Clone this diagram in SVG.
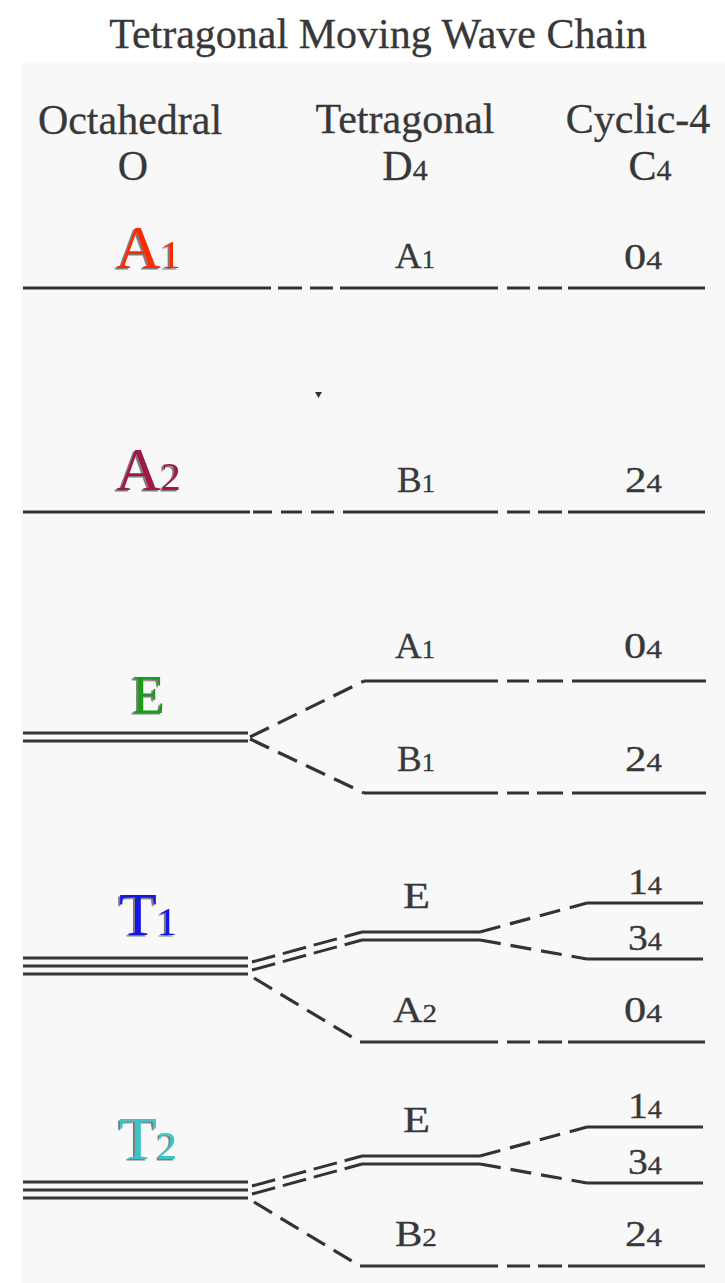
<svg xmlns="http://www.w3.org/2000/svg" width="725" height="1283" viewBox="0 0 725 1283">
<defs>
<style>
.t{font-family:"Liberation Serif","Times New Roman",serif;fill:#383838}
.g{stroke:#383838;stroke-width:0.3}
.h{font-size:42px}
.m{font-size:35px}
.s{font-size:25px}
.hs{font-size:30px}
.c{font-size:62px}
.cs{font-size:40px}
.lv{stroke:#333;stroke-width:3.2;fill:none}
.dl{stroke:#333;stroke-width:3;fill:none}
.da{stroke-dasharray:21 10}
.da2{stroke-dasharray:24 8}
</style>
<filter id="sh" x="-20%" y="-20%" width="140%" height="140%">
<feDropShadow dx="-2" dy="1.5" stdDeviation="0.6" flood-color="#444" flood-opacity="0.7"/>
</filter>
</defs>
<rect width="725" height="1283" fill="#ffffff"/>
<rect x="22" y="62" width="703" height="1221" fill="#f8f8f8"/>

<g id="title">
<text class="t g h" x="378" y="48" text-anchor="middle">Tetragonal Moving Wave Chain</text>
</g>
<g id="col-octahedral">
<text class="t g h" x="130" y="134" text-anchor="middle">Octahedral</text>
<text class="t g h" x="133" y="180" text-anchor="middle">O</text>
</g>
<g id="col-tetragonal">
<text class="t g h" x="405" y="133" text-anchor="middle">Tetragonal</text>
<text class="t g h" x="405" y="180" text-anchor="middle">D<tspan class="hs">4</tspan></text>
</g>
<g id="col-cyclic">
<text class="t g h" x="638" y="133" text-anchor="middle">Cyclic-4</text>
<text class="t g h" x="650" y="180" text-anchor="middle">C<tspan class="hs">4</tspan></text>
</g>

<g id="connectors">
<path class="lv" d="M23 288H271M278 288H302M310 288H333M340 288H498M507 288H530M538 288H562M568 288H705"/>
<path class="lv" d="M23 512H250M253 512H272M281 512H302M311 512H334M343 512H498M507 512H530M538 512H562M568 512H705"/>
<path class="dl" d="M23 733H248M23 741H248"/>
<path class="lv da" d="M250 737L364 681"/>
<path class="lv da" d="M250 739L364 793"/>
<path class="lv" d="M364 681H498M507 681H529M537 681H563M572 681H706"/>
<path class="lv" d="M364 793H498M507 793H529M537 793H563M572 793H706"/>

<path class="dl" d="M23 958H248M23 966H248M23 974H248"/>
<path class="dl da2" d="M252 962L362 932M252 970L362 940"/>
<path class="dl" d="M362 932H480M362 940H480"/>
<path class="lv da" d="M480 932L587 903"/>
<path class="lv da" d="M480 940L587 959"/>
<path class="lv" d="M587 903H703M587 959H703"/>
<path class="lv da" d="M254 978L360 1042"/>
<path class="lv" d="M360 1042H498M507 1042H530M538 1042H562M568 1042H705"/>

<path class="dl" d="M23 1182H248M23 1190H248M23 1198H248"/>
<path class="dl da2" d="M252 1186L362 1156M252 1194L362 1164"/>
<path class="dl" d="M362 1156H480M362 1164H480"/>
<path class="lv da" d="M480 1156L587 1127"/>
<path class="lv da" d="M480 1164L587 1183"/>
<path class="lv" d="M587 1127H703M587 1183H703"/>
<path class="lv da" d="M254 1202L360 1266"/>
<path class="lv" d="M360 1266H498M507 1266H530M538 1266H562M568 1266H705"/>
<path d="M315 392L322 392L318.5 398Z" fill="#333"/>
</g>

<g id="node-A1" filter="url(#sh)">
<text class="t c" x="116" y="268" style="fill:#ff2a00">A<tspan class="cs">1</tspan></text>
</g>
<g id="node-A2" filter="url(#sh)">
<text class="t c" x="116" y="490" style="fill:#a3124c">A<tspan class="cs">2</tspan></text>
</g>
<g id="node-E" filter="url(#sh)">
<text class="t" x="132" y="713" style="fill:#1a9a1a;font-size:54px">E</text>
</g>
<g id="node-T1" filter="url(#sh)">
<text class="t c" x="119" y="935" style="fill:#1414e6">T<tspan class="cs">1</tspan></text>
</g>
<g id="node-T2" filter="url(#sh)">
<text class="t c" x="119" y="1159" style="fill:#3cc4c4">T<tspan class="cs">2</tspan></text>
</g>

<g id="d4-labels">
<text class="t g m" x="395" y="268" textLength="40" lengthAdjust="spacingAndGlyphs">A<tspan class="s">1</tspan></text>
<text class="t g m" x="397" y="492" textLength="38" lengthAdjust="spacingAndGlyphs">B<tspan class="s">1</tspan></text>
<text class="t g m" x="395" y="658" textLength="40" lengthAdjust="spacingAndGlyphs">A<tspan class="s">1</tspan></text>
<text class="t g m" x="397" y="771" textLength="38" lengthAdjust="spacingAndGlyphs">B<tspan class="s">1</tspan></text>
<text class="t g m" x="403" y="908" textLength="27" lengthAdjust="spacingAndGlyphs">E</text>
<text class="t g m" x="393" y="1022" textLength="44" lengthAdjust="spacingAndGlyphs">A<tspan class="s">2</tspan></text>
<text class="t g m" x="403" y="1132" textLength="27" lengthAdjust="spacingAndGlyphs">E</text>
<text class="t g m" x="395" y="1246" textLength="42" lengthAdjust="spacingAndGlyphs">B<tspan class="s">2</tspan></text>
</g>
<g id="c4-labels">
<text class="t g m" x="624" y="269" textLength="38" lengthAdjust="spacingAndGlyphs">0<tspan class="s">4</tspan></text>
<text class="t g m" x="625" y="492" textLength="37" lengthAdjust="spacingAndGlyphs">2<tspan class="s">4</tspan></text>
<text class="t g m" x="624" y="658" textLength="38" lengthAdjust="spacingAndGlyphs">0<tspan class="s">4</tspan></text>
<text class="t g m" x="625" y="771" textLength="37" lengthAdjust="spacingAndGlyphs">2<tspan class="s">4</tspan></text>
<text class="t g m" x="628" y="894" textLength="34" lengthAdjust="spacingAndGlyphs">1<tspan class="s">4</tspan></text>
<text class="t g m" x="628" y="950" textLength="34" lengthAdjust="spacingAndGlyphs">3<tspan class="s">4</tspan></text>
<text class="t g m" x="624" y="1022" textLength="38" lengthAdjust="spacingAndGlyphs">0<tspan class="s">4</tspan></text>
<text class="t g m" x="628" y="1118" textLength="34" lengthAdjust="spacingAndGlyphs">1<tspan class="s">4</tspan></text>
<text class="t g m" x="628" y="1174" textLength="34" lengthAdjust="spacingAndGlyphs">3<tspan class="s">4</tspan></text>
<text class="t g m" x="625" y="1246" textLength="37" lengthAdjust="spacingAndGlyphs">2<tspan class="s">4</tspan></text>
</g>
</svg>
